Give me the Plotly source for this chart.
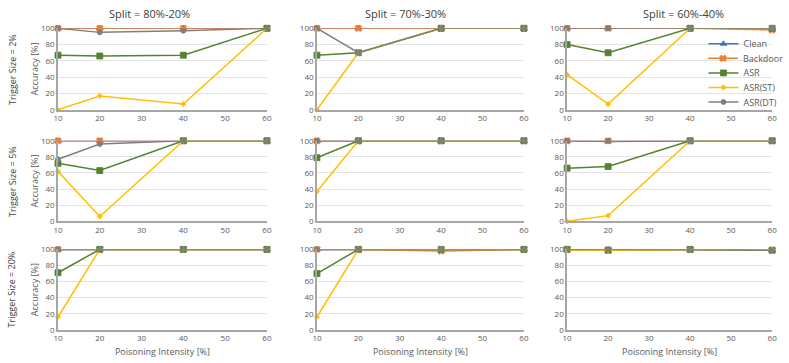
import plotly.graph_objects as go

W, H = 789, 363

poisoning = [10, 20, 40, 60]
splits = ["Split = 80%-20%", "Split = 70%-30%", "Split = 60%-40%"]
trigger_sizes = ["Trigger Size = 2%", "Trigger Size = 5%", "Trigger Size = 20%"]

# rows: trigger size 2%, 5%, 20%; columns: split 80-20, 70-30, 60-40
clean = [
    [[100, 100, 100, 100], [100, 100, 100, 100], [100, 100, 100, 100]],
    [[100, 100, 100, 100], [100, 100, 100, 100], [100, 99, 100, 100]],
    [[100, 100, 100, 100], [100, 100, 100, 100], [100, 100, 100, 99]],
]
backdoor = [
    [[100, 100, 100, 100], [100, 100, 100, 100], [100, 100, 100, 98]],
    [[100, 100, 100, 100], [100, 100, 100, 100], [100, 100, 100, 100]],
    [[100, 100, 100, 100], [100, 100, 98, 100], [100, 99, 100, 99]],
]
asr = [
    [[67, 66, 67, 100], [67, 70, 100, 100], [80, 70, 100, 100]],
    [[72, 63, 100, 100], [79, 100, 100, 100], [66, 68, 100, 100]],
    [[71, 100, 100, 100], [70, 100, 100, 100], [100, 99, 100, 99]],
]
asr_st = [
    [[0, 17, 7, 100], [0, 70, 100, 100], [43, 7, 100, 100]],
    [[62, 6, 100, 100], [37, 100, 100, 100], [0, 7, 100, 100]],
    [[16, 100, 100, 100], [16, 100, 100, 100], [99, 99, 100, 100]],
]
asr_dt = [
    [[100, 95, 97, 100], [100, 70, 100, 100], [100, 100, 100, 100]],
    [[77, 96, 100, 100], [100, 100, 100, 100], [100, 100, 100, 100]],
    [[100, 100, 100, 100], [100, 100, 100, 100], [100, 100, 100, 99]],
]

series = [
    ("Clean", clean, "#4472C4", "triangle-up", 6),
    ("Backdoor", backdoor, "#ED7D31", "x", 6),
    ("ASR", asr, "#548235", "square", 6),
    ("ASR(ST)", asr_st, "#FFC000", "diamond", 4),
    ("ASR(DT)", asr_dt, "#7F7F7F", "circle", 5),
]

# plot-area pixel boxes
col_px = [(54, 267), (318, 529), (573, 782)]
row_px = [(23, 107), (139, 222), (251, 334)]
title_x = [147, 408, 692]
legend_px = [39, 54, 69, 84, 99]

font = "Open Sans, Liberation Sans, sans-serif"
tick_font = dict(family=font, size=8, color="#595959")

fig = go.Figure()
layout = {}
for r in range(3):
    for c in range(3):
        k = r * 3 + c + 1
        xa = "xaxis" if k == 1 else f"xaxis{k}"
        ya = "yaxis" if k == 1 else f"yaxis{k}"
        xr = "x" if k == 1 else f"x{k}"
        yr = "y" if k == 1 else f"y{k}"
        x0, x1 = col_px[c]
        y0, y1 = row_px[r]
        layout[xa] = dict(
            domain=[x0 / W, x1 / W], anchor=yr, range=[10, 60],
            tickvals=[10, 20, 30, 40, 50, 60], showgrid=False, zeroline=False,
            showline=True, linecolor="#A6A6A6", linewidth=1.5,
            tickfont=tick_font, ticks="", fixedrange=True,
        )
        layout[ya] = dict(
            domain=[1 - y1 / H, 1 - y0 / H], anchor=xr, range=[0, 100],
            tickvals=[0, 20, 40, 60, 80, 100], showgrid=True, gridcolor="#E3E3E3",
            gridwidth=1, zeroline=False, showline=True, linecolor="#A6A6A6",
            linewidth=1.5, tickfont=tick_font, ticks="", fixedrange=True,
        )
        if r == 2:
            layout[xa]["title"] = dict(
                text="Poisoning Intensity [%]", standoff=6,
                font=dict(family=font, size=9, color="#595959"),
            )
        if c == 0:
            layout[ya]["title"] = dict(
                text="Accuracy [%]", standoff=1,
                font=dict(family=font, size=9, color="#595959"),
            )
        for i, (name, data, color, symbol, size) in enumerate(series):
            fig.add_trace(go.Scatter(
                x=poisoning, y=data[r][c], mode="lines+markers", name=name,
                xaxis=xr, yaxis=yr, cliponaxis=False,
                line=dict(color=color, width=1.5),
                marker=dict(color=color, symbol=symbol, size=size,
                            line=dict(width=0.8, color=color)),
                showlegend=(k == 1),
                legend="legend" if i == 0 else f"legend{i + 1}",
            ))

annotations = []
for c, t in enumerate(splits):
    annotations.append(dict(
        text=t, x=title_x[c] / W, y=1 - 8 / H, xref="paper", yref="paper",
        showarrow=False, xanchor="center", yanchor="middle",
        font=dict(family=font, size=11, color="#404040"),
    ))
for r, t in enumerate(trigger_sizes):
    y0, y1 = row_px[r]
    annotations.append(dict(
        text=t, x=7 / W, y=1 - (y0 + y1) / 2 / H, xref="paper", yref="paper",
        showarrow=False, xanchor="center", yanchor="middle", textangle=-90,
        font=dict(family=font, size=9, color="#404040"),
    ))

legends = {}
for i, py in enumerate(legend_px):
    key = "legend" if i == 0 else f"legend{i + 1}"
    legends[key] = dict(
        x=712 / W, y=1 - py / H, xanchor="left", yanchor="middle",
        font=dict(family=font, size=9, color="#595959"),
        bgcolor="rgba(0,0,0,0)", itemwidth=30,
    )

fig.update_layout(
    **layout,
    **legends,
    annotations=annotations,
    width=W, height=H,
    margin=dict(l=0, r=0, t=0, b=0),
    paper_bgcolor="white", plot_bgcolor="white",
)

fig.write_html(
    "out.html",
    config={"displayModeBar": False},
    post_script="document.body.style.margin='0';document.body.style.overflow='hidden';",
)
